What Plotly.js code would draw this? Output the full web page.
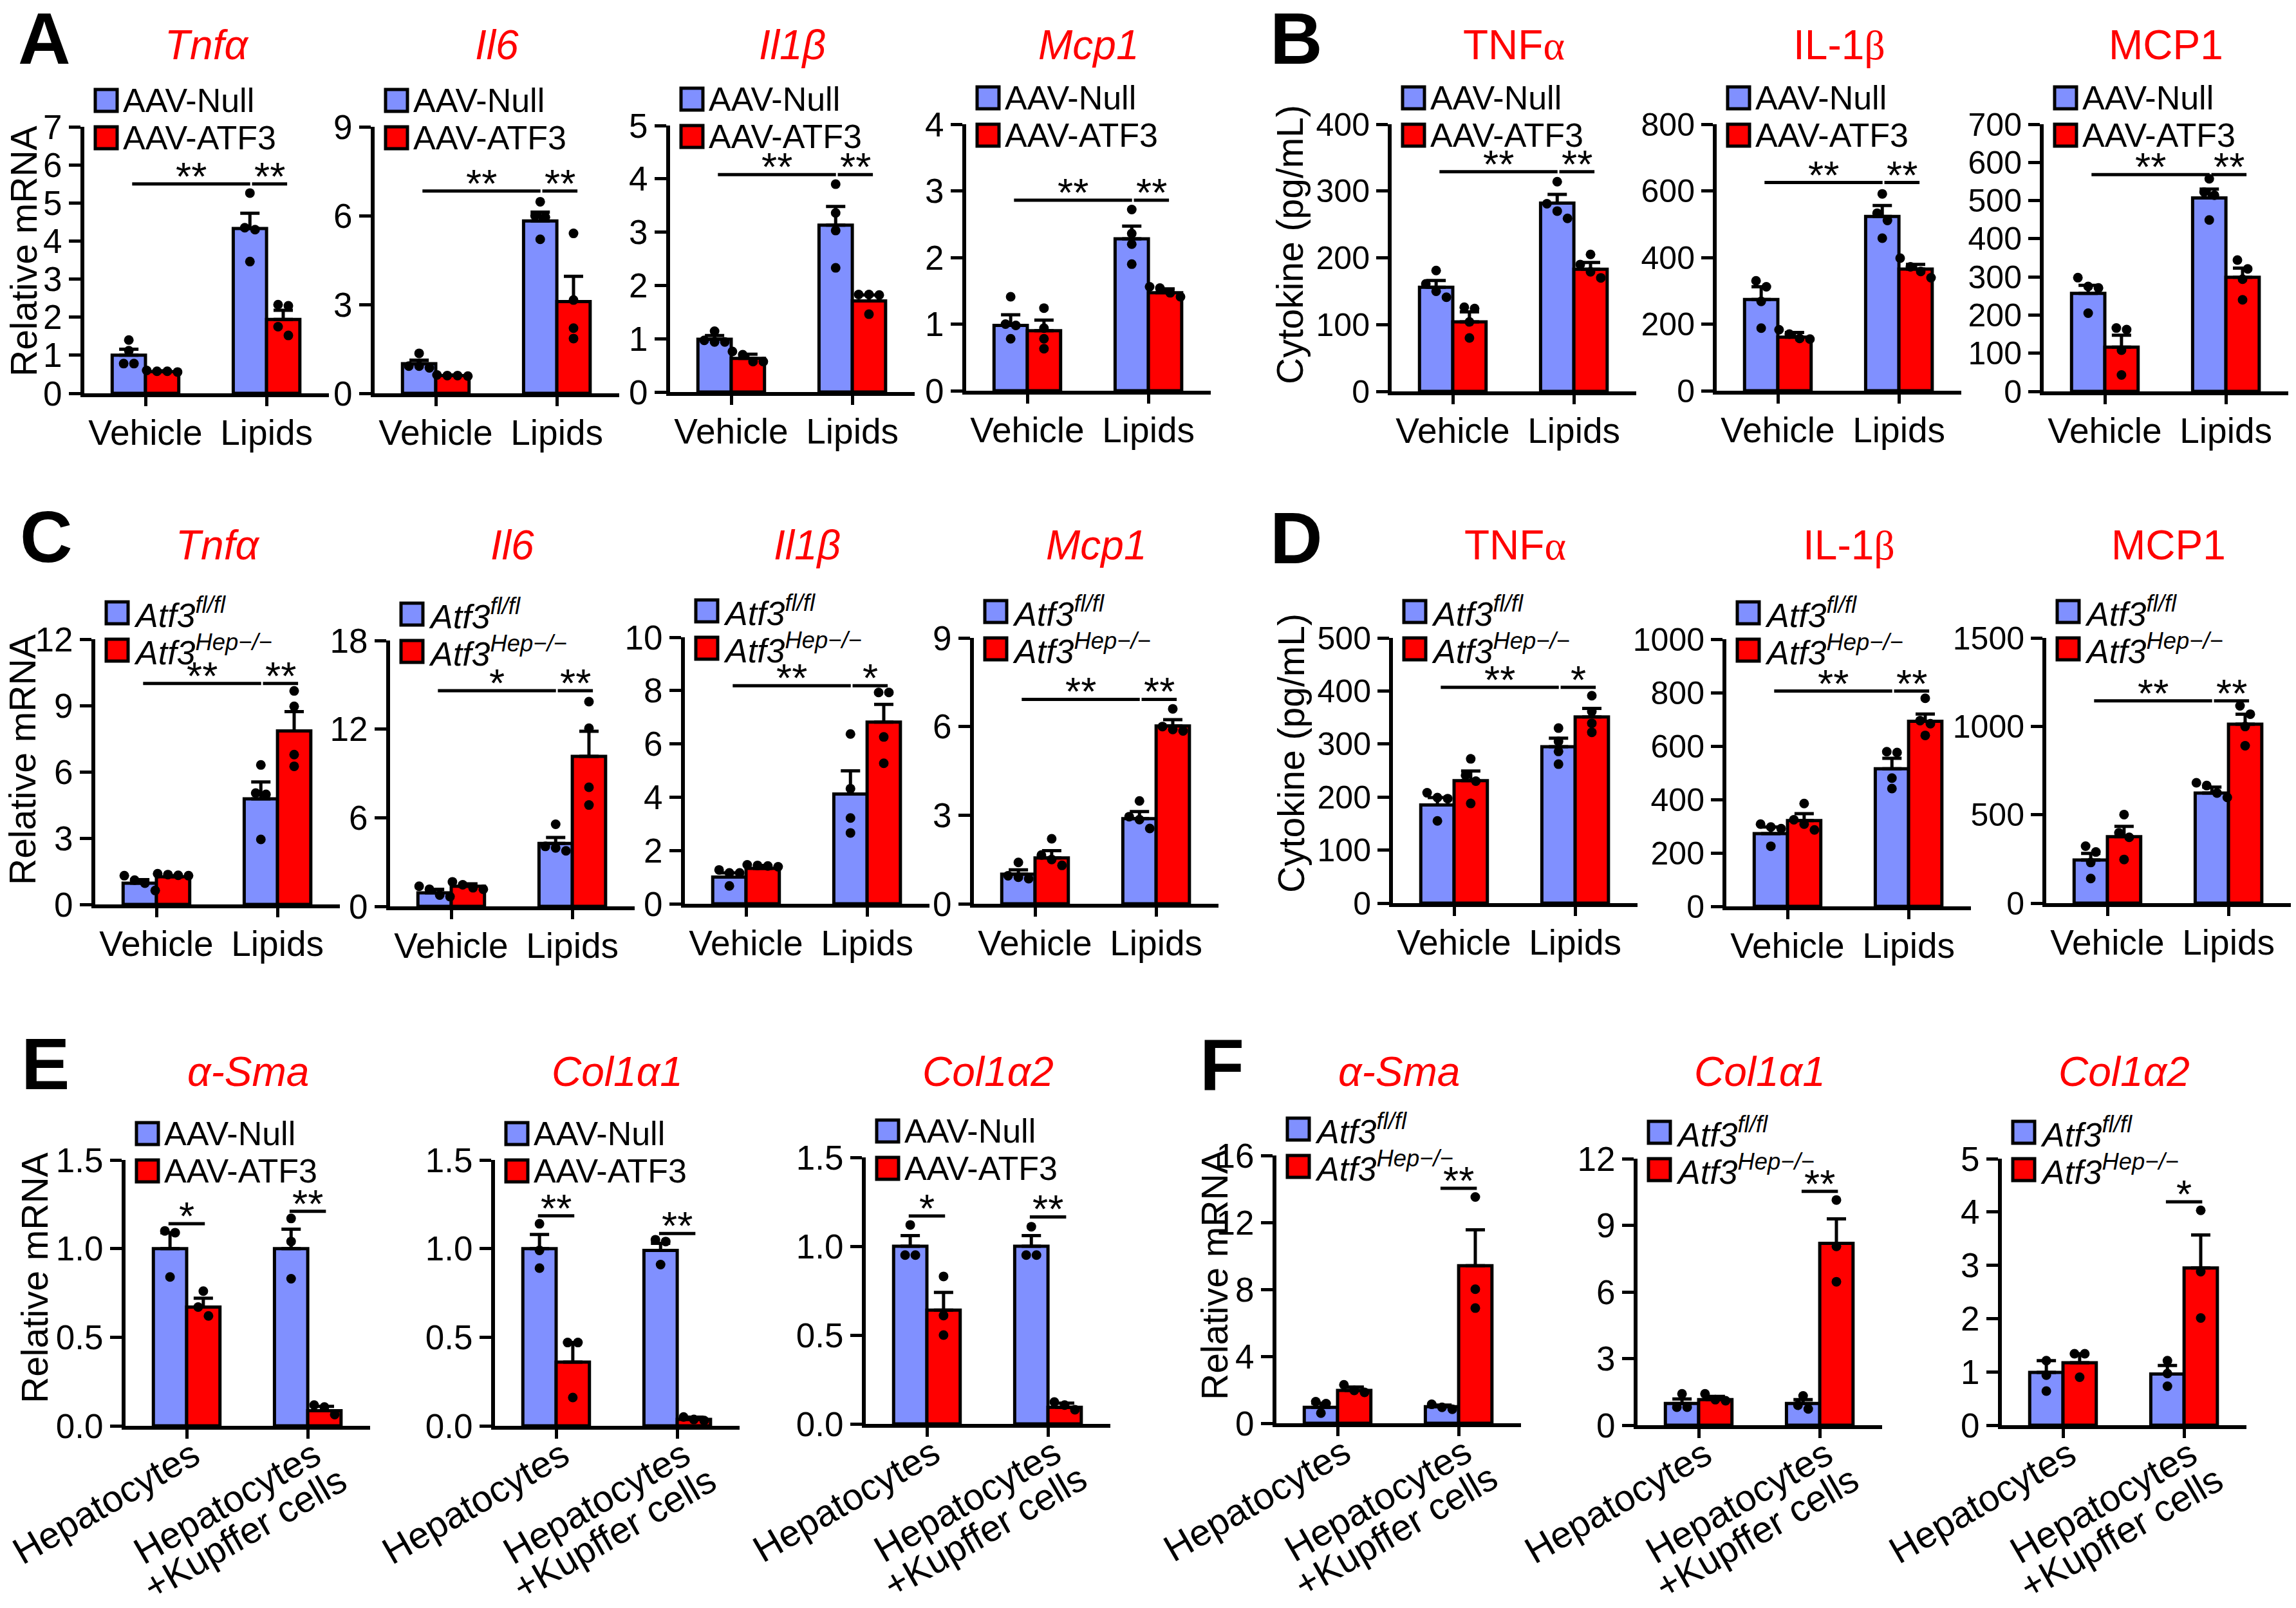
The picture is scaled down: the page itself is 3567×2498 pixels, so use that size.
<!DOCTYPE html>
<html>
<head>
<meta charset="utf-8">
<title>ATF3 cytokine figure</title>
<script src="https://cdn.plot.ly/plotly-3.0.1.min.js"></script>
<style>
  body { margin: 0; background: #fff; }
  #fig { width: 3567px; height: 2498px; }
</style>
</head>
<body>
<div id="fig"></div>
<script>
const W = 3567, H = 2498;
const BLUE = '#8090ff', RED = '#ff0000';
const FONT = 'Liberation Sans, Arial, sans-serif';

const aavGroups = ['AAV-Null', 'AAV-ATF3'];
const koGroups = ['<i>Atf3<sup>fl/fl</sup></i>', '<i>Atf3<sup>Hep−/−</sup></i>'];
const lipidCats = ['Vehicle', 'Lipids'];
const cellCats = ['Hepatocytes', 'Hepatocytes<br>+Kupffer cells'];

// all arrays are [group][category]; dots are [group][category][replicates]
// A: relative mRNA, AAV-Null vs AAV-ATF3
const aTnfMean = [[1.00, 4.33], [0.57, 1.94]];
const aTnfSem = [[0.16, 0.40], [0.02, 0.24]];
const aTnfDots = [[[1.40, 1.12, 0.78, 0.78], [5.26, 4.35, 4.30, 3.46]], [[0.60, 0.58, 0.58, 0.56], [2.33, 2.30, 1.75, 1.52]]];
const aIl6Mean = [[1.00, 5.82], [0.60, 3.10]];
const aIl6Sem = [[0.12, 0.30], [0.02, 0.85]];
const aIl6Dots = [[[1.35, 0.92, 0.92, 0.86], [6.47, 6.00, 5.95, 5.20]], [[0.62, 0.60, 0.60, 0.58], [5.40, 3.15, 2.20, 1.85]]];
const aIl1bMean = [[0.99, 3.13], [0.63, 1.71]];
const aIl1bSem = [[0.07, 0.35], [0.08, 0.11]];
const aIl1bDots = [[[1.14, 0.97, 0.94, 0.94], [3.90, 3.36, 3.03, 2.33]], [[0.76, 0.70, 0.57, 0.57], [1.83, 1.83, 1.82, 1.46]]];
const aMcp1Mean = [[0.98, 2.28], [0.90, 1.47]];
const aMcp1Sem = [[0.16, 0.19], [0.16, 0.06]];
const aMcp1Dots = [[[1.41, 1.00, 0.98, 0.78], [2.72, 2.36, 2.20, 1.90]], [[1.24, 0.94, 0.78, 0.63], [1.56, 1.54, 1.47, 1.41]]];

// B: cytokine (pg/mL), AAV-Null vs AAV-ATF3
const bTnfMean = [[156, 282], [104, 183]];
const bTnfSem = [[10, 13], [15, 10]];
const bTnfDots = [[[181, 161, 150, 141], [314, 281, 270, 259]], [[126, 124, 104, 80], [205, 190, 179, 170]]];
const bIl1bMean = [[274, 523], [161, 365]];
const bIl1bSem = [[38, 33], [14, 14]];
const bIl1bDots = [[[330, 312, 268, 188], [591, 533, 511, 458]], [[183, 170, 157, 155], [398, 372, 358, 339]]];
const bMcp1Mean = [[257, 507], [116, 299]];
const bMcp1Sem = [[21, 23], [31, 24]];
const bMcp1Dots = [[[298, 275, 271, 205], [557, 522, 514, 449]], [[166, 162, 108, 43], [344, 321, 294, 240]]];

// C: relative mRNA, Atf3 fl/fl vs Hep-/-
const cTnfMean = [[0.96, 4.78], [1.25, 7.85]];
const cTnfSem = [[0.16, 0.76], [0.05, 0.87]];
const cTnfDots = [[[1.30, 1.10, 0.96, 0.63], [6.31, 5.04, 4.98, 2.94]], [[1.39, 1.35, 1.32, 1.30], [9.66, 8.96, 6.78, 6.25]]];
const cIl6Mean = [[0.92, 4.26], [1.36, 10.16]];
const cIl6Sem = [[0.24, 0.40], [0.16, 1.70]];
const cIl6Dots = [[[1.36, 1.16, 0.76, 0.66], [5.56, 4.06, 3.96, 3.76]], [[1.66, 1.46, 1.26, 1.16], [13.86, 12.06, 8.06, 6.86]]];
const cIl1bMean = [[1.00, 4.12], [1.33, 6.82]];
const cIl1bSem = [[0.16, 0.87], [0.11, 0.66]];
const cIl1bDots = [[[1.27, 1.16, 1.16, 0.67], [6.37, 4.32, 3.22, 2.66]], [[1.46, 1.44, 1.42, 1.39], [7.93, 7.93, 6.26, 5.27]]];
const cMcp1Mean = [[1.00, 2.88], [1.55, 6.02]];
const cMcp1Sem = [[0.15, 0.24], [0.25, 0.21]];
const cMcp1Dots = [[[1.40, 0.95, 0.90, 0.85], [3.48, 2.95, 2.85, 2.55]], [[2.20, 1.65, 1.50, 1.30], [6.60, 6.00, 5.90, 5.85]]];

// D: cytokine (pg/mL), Atf3 fl/fl vs Hep-/-
const dTnfMean = [[185, 295], [231, 351]];
const dTnfSem = [[14, 16], [18, 16]];
const dTnfDots = [[[208, 199, 197, 155], [330, 305, 286, 262]], [[272, 241, 230, 188], [391, 361, 339, 322]]];
const dIl1bMean = [[272, 515], [321, 693]];
const dIl1bSem = [[25, 39], [26, 27]];
const dIl1bDots = [[[308, 297, 291, 225], [579, 576, 480, 441]], [[385, 324, 308, 286], [779, 695, 684, 640]]];
const dMcp1Mean = [[244, 623], [376, 1012]];
const dMcp1Sem = [[37, 33], [58, 57]];
const dMcp1Dots = [[[322, 289, 230, 139], [681, 665, 623, 598]], [[501, 398, 372, 247], [1116, 1069, 999, 890]]];

// E: relative mRNA in co-culture, AAV-Null vs AAV-ATF3
const eSmaMean = [[1.00, 1.00], [0.67, 0.085]];
const eSmaSem = [[0.09, 0.11], [0.05, 0.025]];
const eSmaDots = [[[1.10, 1.09, 0.84], [1.17, 1.04, 0.83]], [[0.76, 0.67, 0.62], [0.117, 0.106, 0.064]]];
const eCol1a1Mean = [[1.00, 0.99], [0.36, 0.036]];
const eCol1a1Sem = [[0.08, 0.04], [0.11, 0.013]];
const eCol1a1Dots = [[[1.14, 0.99, 0.89], [1.05, 1.04, 0.91]], [[0.47, 0.47, 0.16], [0.05, 0.036, 0.03]]];
const eCol1a2Mean = [[1.00, 1.00], [0.64, 0.093]];
const eCol1a2Sem = [[0.06, 0.06], [0.10, 0.024]];
const eCol1a2Dots = [[[1.12, 0.95, 0.95], [1.11, 0.95, 0.95]], [[0.83, 0.61, 0.50], [0.123, 0.106, 0.08]]];

// F: relative mRNA in co-culture, Atf3 fl/fl vs Hep-/-
const fSmaMean = [[0.95, 0.99], [1.96, 9.41]];
const fSmaSem = [[0.25, 0.10], [0.20, 2.15]];
const fSmaDots = [[[1.29, 1.17, 0.61], [1.13, 0.95, 0.84]], [[2.30, 1.96, 1.85], [13.52, 8.01, 6.88]]];
const fCol1a1Mean = [[0.98, 0.98], [1.15, 8.19]];
const fCol1a1Sem = [[0.20, 0.17], [0.15, 1.10]];
const fCol1a1Dots = [[[1.41, 0.81, 0.81], [1.32, 0.90, 0.73]], [[1.41, 1.15, 1.10], [10.14, 8.05, 6.46]]];
const fCol1a2Mean = [[0.99, 0.96], [1.17, 2.95]];
const fCol1a2Sem = [[0.22, 0.16], [0.17, 0.62]];
const fCol1a2Dots = [[[1.21, 0.94, 0.64], [1.21, 0.97, 0.73]], [[1.34, 1.34, 0.90], [4.03, 2.88, 2.01]]];

// significance: lipid panels [line level, vehicle-vs-lipids, null-vs-atf3 at lipids]
// cell panels: per category [line level, label] or null
const aTnfSig = [5.5, '**', '**'], aIl6Sig = [6.83, '**', '**'], aIl1bSig = [4.08, '**', '**'], aMcp1Sig = [2.86, '**', '**'];
const bTnfSig = [329, '**', '**'], bIl1bSig = [625, '**', '**'], bMcp1Sig = [568, '**', '**'];
const cTnfSig = [10.0, '**', '**'], cIl6Sig = [14.6, '*', '**'], cIl1bSig = [8.18, '**', '*'], cMcp1Sig = [6.92, '**', '**'];
const dTnfSig = [407, '**', '*'], dIl1bSig = [806, '**', '**'], dMcp1Sig = [1144, '**', '**'];
const eSmaSig = [[1.14, '*'], [1.21, '**']], eCol1a1Sig = [[1.185, '**'], [1.085, '**']], eCol1a2Sig = [[1.17, '*'], [1.165, '**']];
const fSmaSig = [null, [14.04, '**']], fCol1a1Sig = [null, [10.53, '**']], fCol1a2Sig = [null, [4.19, '*']];

const SERIF = (s) => '<span style="font-family:Liberation Serif">' + s + '</span>';

// layout of each small chart (pixels of the 3567x2498 page)
const panels = [
  {m: aTnfMean, s: aTnfSem, d: aTnfDots, sig: aTnfSig, title: '<i>Tnfα</i>', ymax: 7, dtick: 1, left: 131, top: 197, bottom: 611, g: aavGroups, c: lipidCats},
  {m: aIl6Mean, s: aIl6Sem, d: aIl6Dots, sig: aIl6Sig, title: '<i>Il6</i>', ymax: 9, dtick: 3, left: 582, top: 197, bottom: 611, g: aavGroups, c: lipidCats},
  {m: aIl1bMean, s: aIl1bSem, d: aIl1bDots, sig: aIl1bSig, title: '<i>Il1β</i>', ymax: 5, dtick: 1, left: 1041, top: 195, bottom: 609, g: aavGroups, c: lipidCats},
  {m: aMcp1Mean, s: aMcp1Sem, d: aMcp1Dots, sig: aMcp1Sig, title: '<i>Mcp1</i>', ymax: 4, dtick: 1, left: 1501, top: 193, bottom: 607, g: aavGroups, c: lipidCats},
  {m: bTnfMean, s: bTnfSem, d: bTnfDots, sig: bTnfSig, title: 'TNF' + SERIF('α'), ymax: 400, dtick: 100, left: 2162, top: 193, bottom: 608, g: aavGroups, c: lipidCats},
  {m: bIl1bMean, s: bIl1bSem, d: bIl1bDots, sig: bIl1bSig, title: 'IL-1' + SERIF('β'), ymax: 800, dtick: 200, left: 2667, top: 193, bottom: 607, g: aavGroups, c: lipidCats},
  {m: bMcp1Mean, s: bMcp1Sem, d: bMcp1Dots, sig: bMcp1Sig, title: 'MCP1', ymax: 700, dtick: 100, left: 3175, top: 193, bottom: 608, g: aavGroups, c: lipidCats},
  {m: cTnfMean, s: cTnfSem, d: cTnfDots, sig: cTnfSig, title: '<i>Tnfα</i>', ymax: 12, dtick: 3, left: 148, top: 993, bottom: 1405, g: koGroups, c: lipidCats},
  {m: cIl6Mean, s: cIl6Sem, d: cIl6Dots, sig: cIl6Sig, title: '<i>Il6</i>', ymax: 18, dtick: 6, left: 606, top: 995, bottom: 1408, g: koGroups, c: lipidCats},
  {m: cIl1bMean, s: cIl1bSem, d: cIl1bDots, sig: cIl1bSig, title: '<i>Il1β</i>', ymax: 10, dtick: 2, left: 1064, top: 990, bottom: 1404, g: koGroups, c: lipidCats},
  {m: cMcp1Mean, s: cMcp1Sem, d: cMcp1Dots, sig: cMcp1Sig, title: '<i>Mcp1</i>', ymax: 9, dtick: 3, left: 1513, top: 991, bottom: 1404, g: koGroups, c: lipidCats},
  {m: dTnfMean, s: dTnfSem, d: dTnfDots, sig: dTnfSig, title: 'TNF' + SERIF('α'), ymax: 500, dtick: 100, left: 2164, top: 991, bottom: 1403, g: koGroups, c: lipidCats},
  {m: dIl1bMean, s: dIl1bSem, d: dIl1bDots, sig: dIl1bSig, title: 'IL-1' + SERIF('β'), ymax: 1000, dtick: 200, left: 2682, top: 993, bottom: 1408, g: koGroups, c: lipidCats},
  {m: dMcp1Mean, s: dMcp1Sem, d: dMcp1Dots, sig: dMcp1Sig, title: 'MCP1', ymax: 1500, dtick: 500, left: 3179, top: 991, bottom: 1403, g: koGroups, c: lipidCats},
  {m: eSmaMean, s: eSmaSem, d: eSmaDots, sig: eSmaSig, title: '<i>α-Sma</i>', ymax: 1.5, dtick: 0.5, left: 195, top: 1802, bottom: 2215, g: aavGroups, c: cellCats},
  {m: eCol1a1Mean, s: eCol1a1Sem, d: eCol1a1Dots, sig: eCol1a1Sig, title: '<i>Col1α1</i>', ymax: 1.5, dtick: 0.5, left: 769, top: 1802, bottom: 2215, g: aavGroups, c: cellCats},
  {m: eCol1a2Mean, s: eCol1a2Sem, d: eCol1a2Dots, sig: eCol1a2Sig, title: '<i>Col1α2</i>', ymax: 1.5, dtick: 0.5, left: 1345, top: 1798, bottom: 2212, g: aavGroups, c: cellCats},
  {m: fSmaMean, s: fSmaSem, d: fSmaDots, sig: fSmaSig, title: '<i>α-Sma</i>', ymax: 16, dtick: 4, left: 1983, top: 1795, bottom: 2211, g: koGroups, c: cellCats},
  {m: fCol1a1Mean, s: fCol1a1Sem, d: fCol1a1Dots, sig: fCol1a1Sig, title: '<i>Col1α1</i>', ymax: 12, dtick: 3, left: 2544, top: 1800, bottom: 2214, g: koGroups, c: cellCats},
  {m: fCol1a2Mean, s: fCol1a2Sem, d: fCol1a2Dots, sig: fCol1a2Sig, title: '<i>Col1α2</i>', ymax: 5, dtick: 1, left: 3110, top: 1800, bottom: 2214, g: koGroups, c: cellCats}
];

const PLOT_W = 380;
const XR = [-0.505, 1.515];
const BW = 0.275;          // bar width in category units
const DOT_GAP = 16;        // px between overlapping dots

const px = (x) => x / W;
const py = (y) => 1 - y / H;

// spread dots that would overlap, like a small beeswarm
function swarm(vals, center, pxY, pxX) {
  const order = vals.map((v, i) => i).sort((a, b) => vals[b] - vals[a]);
  const xs = new Array(vals.length).fill(center);
  let cluster = [];
  const flush = () => {
    cluster.forEach((k, j) => { xs[k] = center + (j - (cluster.length - 1) / 2) * DOT_GAP / pxX; });
    cluster = [];
  };
  order.forEach(k => {
    if (cluster.length && (vals[cluster[cluster.length - 1]] - vals[k]) * pxY >= DOT_GAP - 2) flush();
    cluster.push(k);
  });
  flush();
  return xs;
}

const traces = [];
const shapes = [];
const annotations = [];
const layout = {
  width: W, height: H,
  margin: {l: 0, r: 0, t: 0, b: 0},
  paper_bgcolor: 'white', plot_bgcolor: 'rgba(0,0,0,0)',
  showlegend: false,
  barmode: 'overlay',
  font: {family: FONT, color: 'black', size: 54}
};

panels.forEach((p, i) => {
  const n = i === 0 ? '' : String(i + 1);
  const xa = 'x' + n, ya = 'y' + n;
  const pxX = PLOT_W / (XR[1] - XR[0]);
  const pxY = (p.bottom - p.top) / p.ymax;
  const isCell = p.c === cellCats;
  const isCyto = p.ymax >= 400;

  layout['xaxis' + n] = {
    domain: [px(p.left), px(p.left + PLOT_W)], anchor: ya, range: XR,
    tickvals: [0, 1], ticktext: p.c, showticklabels: !isCell,
    ticks: 'outside', ticklen: 14, tickwidth: 5, tickcolor: 'black',
    ticklabelstandoff: -6,
    showline: true, linewidth: 6, linecolor: 'black',
    showgrid: false, zeroline: false, fixedrange: true,
    tickfont: {size: 55}
  };
  layout['yaxis' + n] = {
    domain: [py(p.bottom), py(p.top)], anchor: xa, range: [0, p.ymax],
    tick0: 0, dtick: p.dtick, tickformat: isCell && p.ymax < 2 ? '.1f' : '',
    ticks: 'outside', ticklen: 18, tickwidth: 5, tickcolor: 'black',
    showline: true, linewidth: 6, linecolor: 'black',
    showgrid: false, zeroline: false, fixedrange: true,
    tickfont: {size: isCyto ? 50 : 53}
  };

  [0, 1].forEach(gi => {
    traces.push({
      type: 'bar', xaxis: xa, yaxis: ya,
      x: [0, 1], y: p.m[gi], width: BW, offset: gi === 0 ? -BW : 0,
      marker: {color: gi === 0 ? BLUE : RED, line: {color: 'black', width: 5}},
      error_y: {type: 'data', symmetric: false, array: p.s[gi], arrayminus: [0, 0],
                color: 'black', thickness: 5, width: 15},
      hoverinfo: 'skip'
    });
  });
  [0, 1].forEach(gi => {
    [0, 1].forEach(ci => {
      const vals = p.d[gi][ci];
      const center = ci + (gi === 0 ? -BW / 2 : BW / 2);
      traces.push({
        type: 'scatter', mode: 'markers', xaxis: xa, yaxis: ya, cliponaxis: false,
        x: swarm(vals, center, pxY, pxX), y: vals,
        marker: {color: 'black', size: 15}, hoverinfo: 'skip'
      });
    });
  });

  // rotated two-line category labels for the co-culture charts
  if (isCell) {
    p.c.forEach((lbl, ci) => {
      lbl.split('<br>').forEach((line, li) => {
        annotations.push({xref: xa, yref: 'paper', x: ci, y: py(p.bottom),
                          xshift: li === 0 ? -126 : -98, yshift: li === 0 ? -118 : -166,
                          text: line, textangle: -30, showarrow: false,
                          xanchor: 'center', yanchor: 'middle', font: {size: 58}});
      });
    });
  }

  // significance bars
  const sigLine = (x0, x1, y) => shapes.push({type: 'line', xref: xa, yref: ya, x0: x0, x1: x1, y0: y, y1: y,
                                              line: {color: 'black', width: 5}});
  const sigText = (x, y, t) => annotations.push({xref: xa, yref: ya, x: x, y: y, text: t, showarrow: false,
                                                 yanchor: 'bottom', yshift: -24, font: {size: 62}});
  if (!isCell) {
    const [lvl, t1, t2] = p.sig;
    sigLine(-0.11, 0.865, lvl); sigText(0.38, lvl, t1);
    sigLine(0.88, 1.17, lvl); sigText(1.025, lvl, t2);
  } else {
    p.sig.forEach((sg, ci) => {
      if (!sg) return;
      sigLine(ci - 0.15, ci + 0.15, sg[0]); sigText(ci, sg[0], sg[1]);
    });
  }

  // legend boxes
  [0, 1].forEach(gi => {
    const cy = p.top + (gi === 0 ? -41 : 17);
    shapes.push({type: 'rect', xref: 'paper', yref: 'paper',
                 x0: px(p.left + 17), x1: px(p.left + 51), y0: py(cy + 17), y1: py(cy - 17),
                 fillcolor: gi === 0 ? BLUE : RED, line: {color: 'black', width: 5}});
    annotations.push({xref: 'paper', yref: 'paper', x: px(p.left + 58), y: py(cy),
                      xanchor: 'left', yanchor: 'middle', showarrow: false,
                      text: p.g[gi], font: {size: 52}});
  });

  // chart title
  const titleY = p.top < 400 ? 70 : (p.top < 1200 ? 847 : 1665);
  annotations.push({xref: 'paper', yref: 'paper', x: px(p.left + PLOT_W / 2), y: py(titleY),
                    xanchor: 'center', yanchor: 'middle', showarrow: false,
                    text: p.title, font: {size: 64, color: RED}});
});

// y-axis titles
const yTitles = [
  ['Relative mRNA', 37, 390], ['Cytokine (pg/mL)', 2004, 380],
  ['Relative mRNA', 35, 1180], ['Cytokine (pg/mL)', 2006, 1170],
  ['Relative mRNA', 54, 1985], ['Relative mRNA', 1887, 1980]
];
yTitles.forEach(([t, x, y]) => annotations.push({
  xref: 'paper', yref: 'paper', x: px(x), y: py(y), text: t, textangle: -90,
  xanchor: 'center', yanchor: 'middle', showarrow: false, font: {size: 57}
}));

// panel letters
const letters = [['A', 26, 60], ['B', 1971, 60], ['C', 29, 834], ['D', 1971, 836], ['E', 31, 1653], ['F', 1862, 1655]];
letters.forEach(([t, x, y]) => annotations.push({
  xref: 'paper', yref: 'paper', x: px(x), y: py(y), text: '<b>' + t + '</b>',
  xanchor: 'left', yanchor: 'middle', showarrow: false, font: {size: 113}
}));

layout.shapes = shapes;
layout.annotations = annotations;

Plotly.newPlot('fig', traces, layout, {staticPlot: true});
</script>
</body>
</html>
